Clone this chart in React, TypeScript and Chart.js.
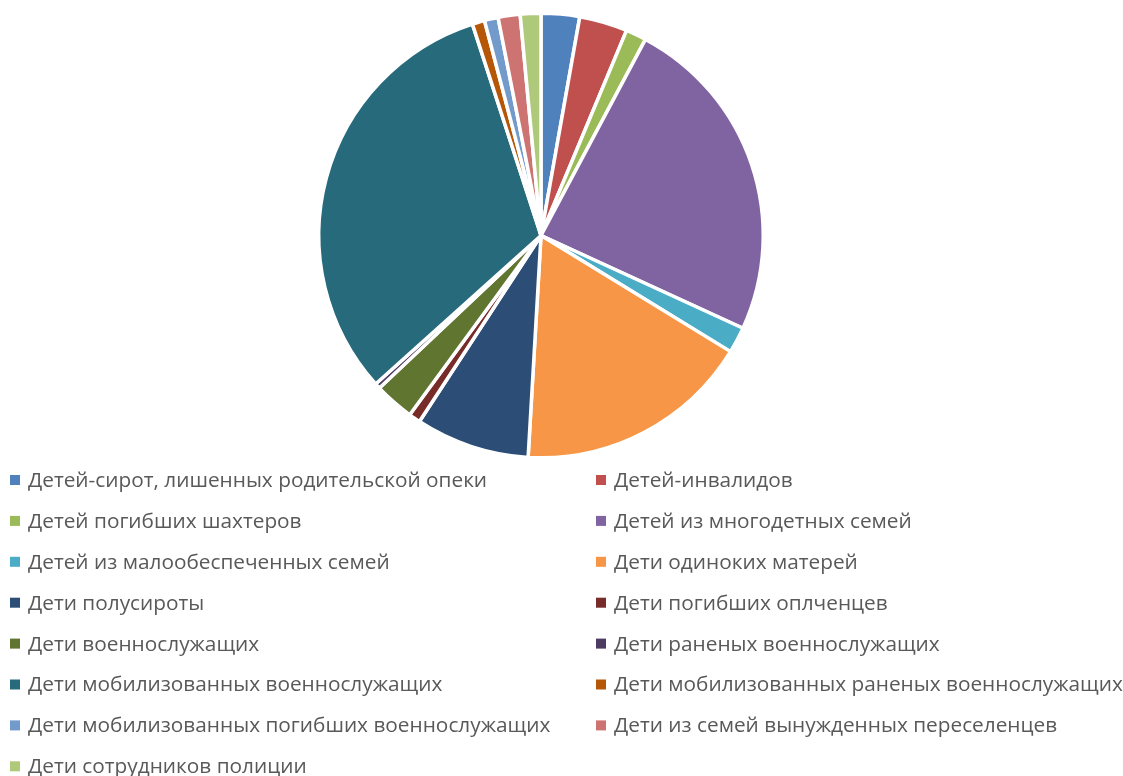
import React, { useEffect, useRef } from "react";
import { Chart, registerables } from "chart.js";

Chart.register(...registerables);

const categories: string[] = [
  "Детей-сирот, лишенных родительской опеки",
  "Детей-инвалидов",
  "Детей погибших шахтеров",
  "Детей из многодетных семей",
  "Детей из малообеспеченных семей",
  "Дети одиноких матерей",
  "Дети полусироты",
  "Дети погибших оплченцев",
  "Дети военнослужащих",
  "Дети раненых военнослужащих",
  "Дети мобилизованных военнослужащих",
  "Дети мобилизованных раненых военнослужащих",
  "Дети мобилизованных погибших военнослужащих",
  "Дети из семей вынужденных переселенцев",
  "Дети сотрудников полиции",
];

const values: number[] = [2.8, 3.5, 1.5, 24.1, 1.9, 17.2, 8.3, 0.85, 2.9, 0.4, 31.7, 0.9, 1.0, 1.6, 1.5];

const colors: string[] = [
  "#4F81BD", "#C0504D", "#9BBB59", "#8064A2", "#4BACC6", "#F79646",
  "#2C4D75", "#772C2A", "#5F7530", "#4D3B62", "#276A7C", "#B65708",
  "#729ACA", "#CD7371", "#AFC97A",
];

const legendPlugin = {
  id: "twoColLegend",
  afterDraw(chart: any) {
    const ctx = chart.ctx;
    const labels: string[] = chart.data.labels;
    const bg: string[] = chart.data.datasets[0].backgroundColor;
    ctx.save();
    ctx.font = '20.8px "Open Sans", sans-serif';
    ctx.textBaseline = "middle";
    const colX = [10, 596];
    const y0 = 480;
    const step = 40.9;
    labels.forEach((lab, i) => {
      const col = i % 2;
      const row = Math.floor(i / 2);
      const x = colX[col];
      const y = y0 + row * step;
      ctx.fillStyle = bg[i];
      ctx.fillRect(x, y - 5, 10, 10);
      ctx.fillStyle = "#595959";
      ctx.fillText(lab, x + 18, y + 1);
    });
    ctx.restore();
  },
};

export default function App() {
  const ref = useRef<HTMLCanvasElement | null>(null);
  useEffect(() => {
    if (!ref.current) return;
    const chart = new Chart(ref.current, {
      type: "pie",
      data: {
        labels: categories,
        datasets: [
          {
            data: values,
            backgroundColor: colors,
            borderColor: "#FFFFFF",
            borderWidth: 3.5,
          },
        ],
      },
      options: {
        animation: false,
        responsive: false,
        maintainAspectRatio: false,
        layout: { padding: { left: 317, right: 358, top: 11, bottom: 316 } },
        plugins: {
          legend: { display: false },
          tooltip: { enabled: false },
        },
      },
      plugins: [legendPlugin],
    });
    return () => chart.destroy();
  }, []);
  return (
    <div style={{ position: "fixed", left: 0, top: 0, width: 1123, height: 776, background: "#fff" }}>
      <canvas ref={ref} width={1123} height={776} style={{ width: 1123, height: 776 }} />
    </div>
  );
}
